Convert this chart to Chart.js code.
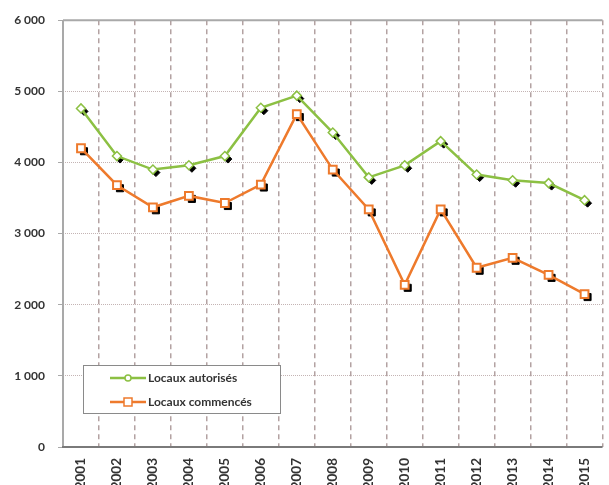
<!DOCTYPE html>
<html>
<head>
<meta charset="utf-8">
<script src="https://cdn.jsdelivr.net/npm/chart.js@4.4.1/dist/chart.umd.min.js"></script>
<style>
  html, body { margin: 0; padding: 0; background: #fff; overflow: hidden; }
  #wrap { width: 612px; height: 505px; }
</style>
</head>
<body>
<div id="wrap"><canvas id="chart"></canvas></div>
<script>
// Locaux autorisés / commencés, 2001-2015
const years = ['2001', '2002', '2003', '2004', '2005', '2006', '2007', '2008',
  '2009', '2010', '2011', '2012', '2013', '2014', '2015'];
const autorises = [4760, 4090, 3900, 3960, 4090, 4770, 4940, 4420, 3790, 3960, 4300, 3830, 3750, 3710, 3470];
const commences = [4200, 3680, 3370, 3530, 3430, 3690, 4680, 3900, 3340, 2280, 3340, 2520, 2660, 2420, 2150];
const yTicks = [0, 1000, 2000, 3000, 4000, 5000, 6000];

const GREEN = '#8cc043';
const ORANGE = '#ee7a2c';
const FONT = "Lato, 'Liberation Sans', sans-serif";

function fmt(v) {
  return String(v).replace(/\B(?=(\d{3})+(?!\d))/g, ' ');
}

// black offset marker shadows, as in the original
const shadowPlugin = {
  id: 'shadow',
  beforeDatasetDraw(chart, args) {
    if (args.meta._dataset.isShadow) {
      chart.ctx.save();
      chart.ctx.translate(3, 3);
    }
  },
  afterDatasetDraw(chart, args) {
    if (args.meta._dataset.isShadow) chart.ctx.restore();
  }
};

// solid axis lines + top frame line
const axisLines = {
  id: 'axisLines',
  beforeDatasetsDraw(chart) {
    const ctx = chart.ctx;
    const a = chart.chartArea;
    ctx.save();
    ctx.lineWidth = 2;
    ctx.strokeStyle = '#a9a9a9';
    ctx.beginPath();
    ctx.moveTo(a.left, a.top);
    ctx.lineTo(a.left, a.bottom);
    ctx.moveTo(a.left, a.top);
    ctx.lineTo(a.right, a.top);
    ctx.stroke();
    ctx.strokeStyle = '#7a7a7a';
    ctx.beginPath();
    ctx.moveTo(a.left - 1, a.bottom);
    ctx.lineTo(a.right, a.bottom);
    ctx.stroke();
    ctx.restore();
  }
};

// boxed legend inside the plot
const boxLegend = {
  id: 'boxLegend',
  afterDraw(chart) {
    const ctx = chart.ctx;
    const a = chart.chartArea;
    const x = a.left + 20, y = a.bottom - 82, w = 197, h = 48;
    ctx.save();
    ctx.fillStyle = '#fff';
    ctx.fillRect(x, y, w, h);
    ctx.strokeStyle = '#8a8a8a';
    ctx.lineWidth = 1;
    ctx.strokeRect(x + 0.5, y + 0.5, w, h);
    const items = [
      { label: chart.data.datasets[0].label, color: GREEN, style: 'circle' },
      { label: chart.data.datasets[1].label, color: ORANGE, style: 'rect' }
    ];
    items.forEach((it, i) => {
      const cy = y + 13 + i * 24;
      ctx.strokeStyle = it.color;
      ctx.lineWidth = 2.5;
      ctx.beginPath();
      ctx.moveTo(x + 27, cy);
      ctx.lineTo(x + 63, cy);
      ctx.stroke();
      ctx.fillStyle = '#fff';
      ctx.lineWidth = 1.5;
      ctx.beginPath();
      if (it.style === 'circle') ctx.arc(x + 45, cy, 3, 0, Math.PI * 2);
      else ctx.rect(x + 41, cy - 4, 8, 8);
      ctx.fill();
      ctx.stroke();
      ctx.fillStyle = '#333';
      ctx.font = 'bold 12px ' + FONT;
      ctx.textBaseline = 'middle';
      ctx.fillText(it.label, x + 65, cy);
    });
    ctx.restore();
  }
};

new Chart(document.getElementById('chart'), {
  type: 'line',
  data: {
    labels: years,
    datasets: [
      {
        label: 'Locaux autorisés',
        data: autorises,
        borderColor: GREEN,
        borderWidth: 2.5,
        pointStyle: 'rectRot',
        pointRadius: 4.5,
        pointBorderWidth: 1.5,
        pointBackgroundColor: '#fff',
        pointBorderColor: GREEN,
        tension: 0,
        order: 1
      },
      {
        label: 'Locaux commencés',
        data: commences,
        borderColor: ORANGE,
        borderWidth: 2.5,
        pointStyle: 'rect',
        pointRadius: 5.5,
        pointBorderWidth: 2,
        pointBackgroundColor: '#fff',
        pointBorderColor: ORANGE,
        tension: 0,
        order: 2
      },
      {
        label: 'ombre autorisés',
        isShadow: true,
        data: autorises,
        showLine: false,
        pointStyle: 'rectRot',
        pointRadius: 4,
        pointBackgroundColor: '#000',
        pointBorderColor: '#000',
        order: 3
      },
      {
        label: 'ombre commencés',
        isShadow: true,
        data: commences,
        showLine: false,
        pointStyle: 'rect',
        pointRadius: 5,
        pointBackgroundColor: '#000',
        pointBorderColor: '#000',
        order: 4
      }
    ]
  },
  options: {
    responsive: true,
    maintainAspectRatio: false,
    animation: false,
    layout: { padding: { top: 12, right: 0, left: 0, bottom: 0 } },
    plugins: {
      legend: { display: false },
      tooltip: { enabled: false }
    },
    scales: {
      x: {
        offset: true,
        grid: {
          offset: true,
          drawTicks: false,
          color: '#b3a2a2',
          lineWidth: 1.5
        },
        border: { display: false, dash: [5, 4] },
        ticks: {
          autoSkip: false,
          minRotation: 90,
          maxRotation: 90,
          padding: 11,
          color: '#333',
          font: { family: FONT, size: 13.5, weight: 'bold' }
        },
        afterFit(scale) { scale.height = 58; }
      },
      y: {
        min: 0,
        max: 6000,
        afterBuildTicks(scale) { scale.ticks = yTicks.map(v => ({ value: v })); },
        grid: {
          color: '#c4b4b4',
          lineWidth: 1,
          tickLength: 5,
          tickColor: '#a9a9a9'
        },
        border: { display: false, dash: [1, 1] },
        ticks: {
          padding: 13,
          color: '#333',
          font: { family: FONT, size: 12, weight: 'bold' },
          callback: v => fmt(v)
        },
        afterFit(scale) { scale.width = 63; }
      }
    }
  },
  plugins: [shadowPlugin, axisLines, boxLegend]
});
</script>
</body>
</html>
